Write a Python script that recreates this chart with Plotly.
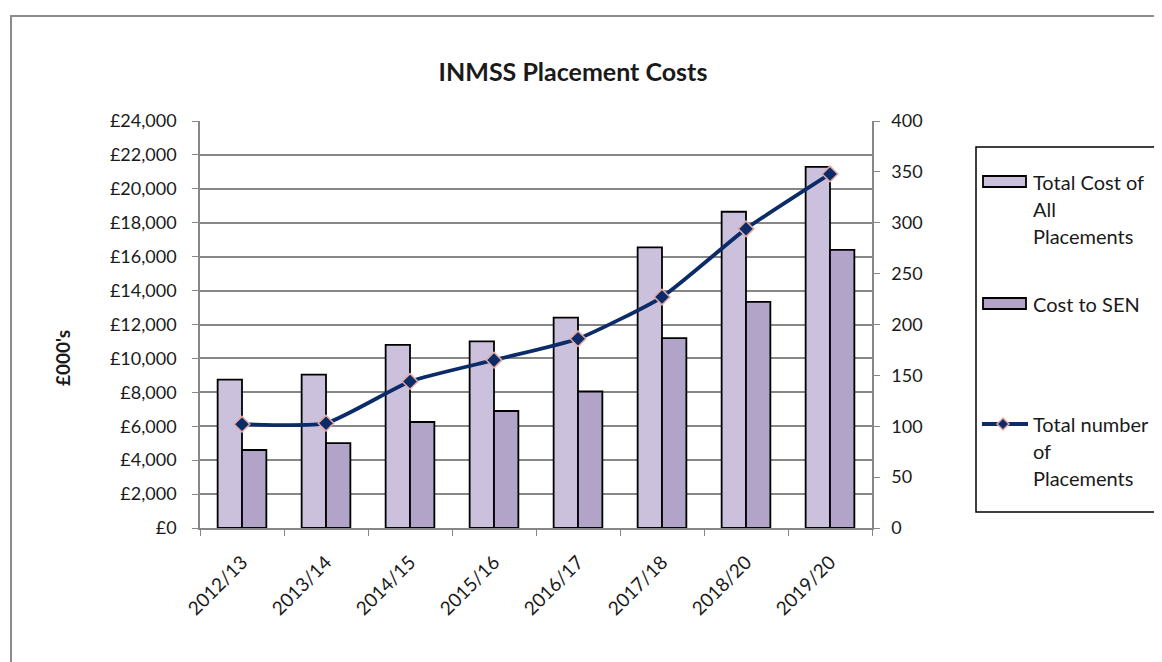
import plotly.graph_objects as go

years = ["2012/13", "2013/14", "2014/15", "2015/16", "2016/17", "2017/18", "2018/20", "2019/20"]
total_cost = [8750, 9050, 10800, 11000, 12400, 16550, 18650, 21300]
sen_cost = [4600, 5000, 6250, 6900, 8050, 11200, 13330, 16400]
num_placements = [102, 103, 144, 165, 186, 227, 294, 348]

FONT = "Lato"
OFF = 8                      # page body margin offset
W, H = 1162 - OFF, 662 - OFF
L, R, T, B = 200, 872, 121, 528   # plot area in reference pixel coords

C_TOTAL = "#cbc1dc"
C_SEN = "#b2a3c9"
C_LINE = "#0c2b69"
C_EDGE = "#e2aaa2"
TXT = "#1a1a1a"


def px(x):
    return (x - L) / (R - L)


def py(y):
    return (B - y) / (B - T)


fig = go.Figure()
fig.add_trace(go.Bar(
    x=years, y=total_cost, name="Total Cost of All Placements",
    marker=dict(color=C_TOTAL, line=dict(color="#000000", width=1.8)),
    yaxis="y", showlegend=False,
))
fig.add_trace(go.Bar(
    x=years, y=sen_cost, name="Cost to SEN",
    marker=dict(color=C_SEN, line=dict(color="#000000", width=1.8)),
    yaxis="y", showlegend=False,
))
fig.add_trace(go.Scatter(
    x=years, y=num_placements, name="Total number of Placements",
    mode="lines+markers", yaxis="y2", showlegend=False,
    line=dict(color=C_LINE, width=3.8, shape="spline", smoothing=0.5),
    marker=dict(symbol="diamond", size=12, color=C_LINE,
                line=dict(color=C_EDGE, width=1.5)),
))

axis_col = "#878787"

# manual legend (matching the wide swatches of the original)
shapes = [
    dict(type="rect", xref="paper", yref="paper",
         x0=px(11), x1=px(1185), y0=py(700), y1=py(16),
         line=dict(color="#8c8c8c", width=2), fillcolor="rgba(0,0,0,0)", layer="below"),
    dict(type="rect", xref="paper", yref="paper",
         x0=px(976), x1=px(1158), y0=py(512), y1=py(147),
         line=dict(color="#000000", width=1.5), fillcolor="rgba(0,0,0,0)"),
    dict(type="rect", xref="paper", yref="paper",
         x0=px(983), x1=px(1026), y0=py(187), y1=py(176),
         line=dict(color="#000000", width=1.8), fillcolor=C_TOTAL),
    dict(type="rect", xref="paper", yref="paper",
         x0=px(983), x1=px(1026), y0=py(309), y1=py(298),
         line=dict(color="#000000", width=1.8), fillcolor=C_SEN),
    dict(type="line", xref="paper", yref="paper",
         x0=px(982), x1=px(1028), y0=py(424), y1=py(424),
         line=dict(color=C_LINE, width=3.8)),
]
dx, dy = 6 / (R - L), 6 / (B - T)
cx, cy = px(1003), py(424)
shapes.append(dict(
    type="path", xref="paper", yref="paper",
    path=f"M {cx},{cy + dy} L {cx + dx},{cy} L {cx},{cy - dy} L {cx - dx},{cy} Z",
    fillcolor=C_LINE, line=dict(color=C_EDGE, width=1.5),
))

legend_lines = [
    ("Total Cost of", 182), ("All", 209), ("Placements", 236),
    ("Cost to SEN", 304),
    ("Total number", 424), ("of", 451), ("Placements", 478),
]
annotations = [
    dict(text=t, x=px(1031), y=py(yy), xref="paper", yref="paper",
         xanchor="left", yanchor="middle", showarrow=False,
         font=dict(family=FONT, size=20, color=TXT))
    for t, yy in legend_lines
]
annotations.append(dict(
    text="<b>£000's</b>", x=px(62), y=py(358), xref="paper", yref="paper",
    xanchor="center", yanchor="middle", showarrow=False, textangle=-90,
    font=dict(family=FONT, size=19, color=TXT),
))

fig.update_layout(
    width=W, height=H,
    margin=dict(l=L - OFF, r=W - (R - OFF), t=T - OFF, b=H - (B - OFF), autoexpand=False),
    paper_bgcolor="white", plot_bgcolor="white",
    font=dict(family=FONT, size=18, color=TXT),
    barmode="group", bargap=0.42, bargroupgap=0,
    title=dict(text="<b>INMSS Placement Costs</b>", x=px(573), xref="paper",
               xanchor="center", y=1 - (72 - OFF) / H, yanchor="middle",
               font=dict(family=FONT, size=25, color=TXT)),
    xaxis=dict(type="category", tickangle=-45, showline=True, linecolor=axis_col,
               linewidth=1.5, ticks="outside", tickson="boundaries", ticklen=6,
               tickcolor=axis_col, showgrid=False, tickfont=dict(size=19),
               ticklabelstandoff=14),
    yaxis=dict(range=[0, 24000], dtick=2000, tickprefix="£", tickformat=",d",
               showline=True, linecolor=axis_col, linewidth=1.5, ticks="outside",
               ticklen=6, tickcolor=axis_col, showgrid=True, gridcolor=axis_col,
               gridwidth=1.5, zeroline=False, ticklabelstandoff=12),
    yaxis2=dict(range=[0, 400], dtick=50, overlaying="y", side="right",
                showline=True, linecolor=axis_col, linewidth=1.5, ticks="outside",
                ticklen=6, tickcolor=axis_col, showgrid=False, zeroline=False,
                ticklabelstandoff=8),
    shapes=shapes,
    annotations=annotations,
)

fig.write_html("out.html")
